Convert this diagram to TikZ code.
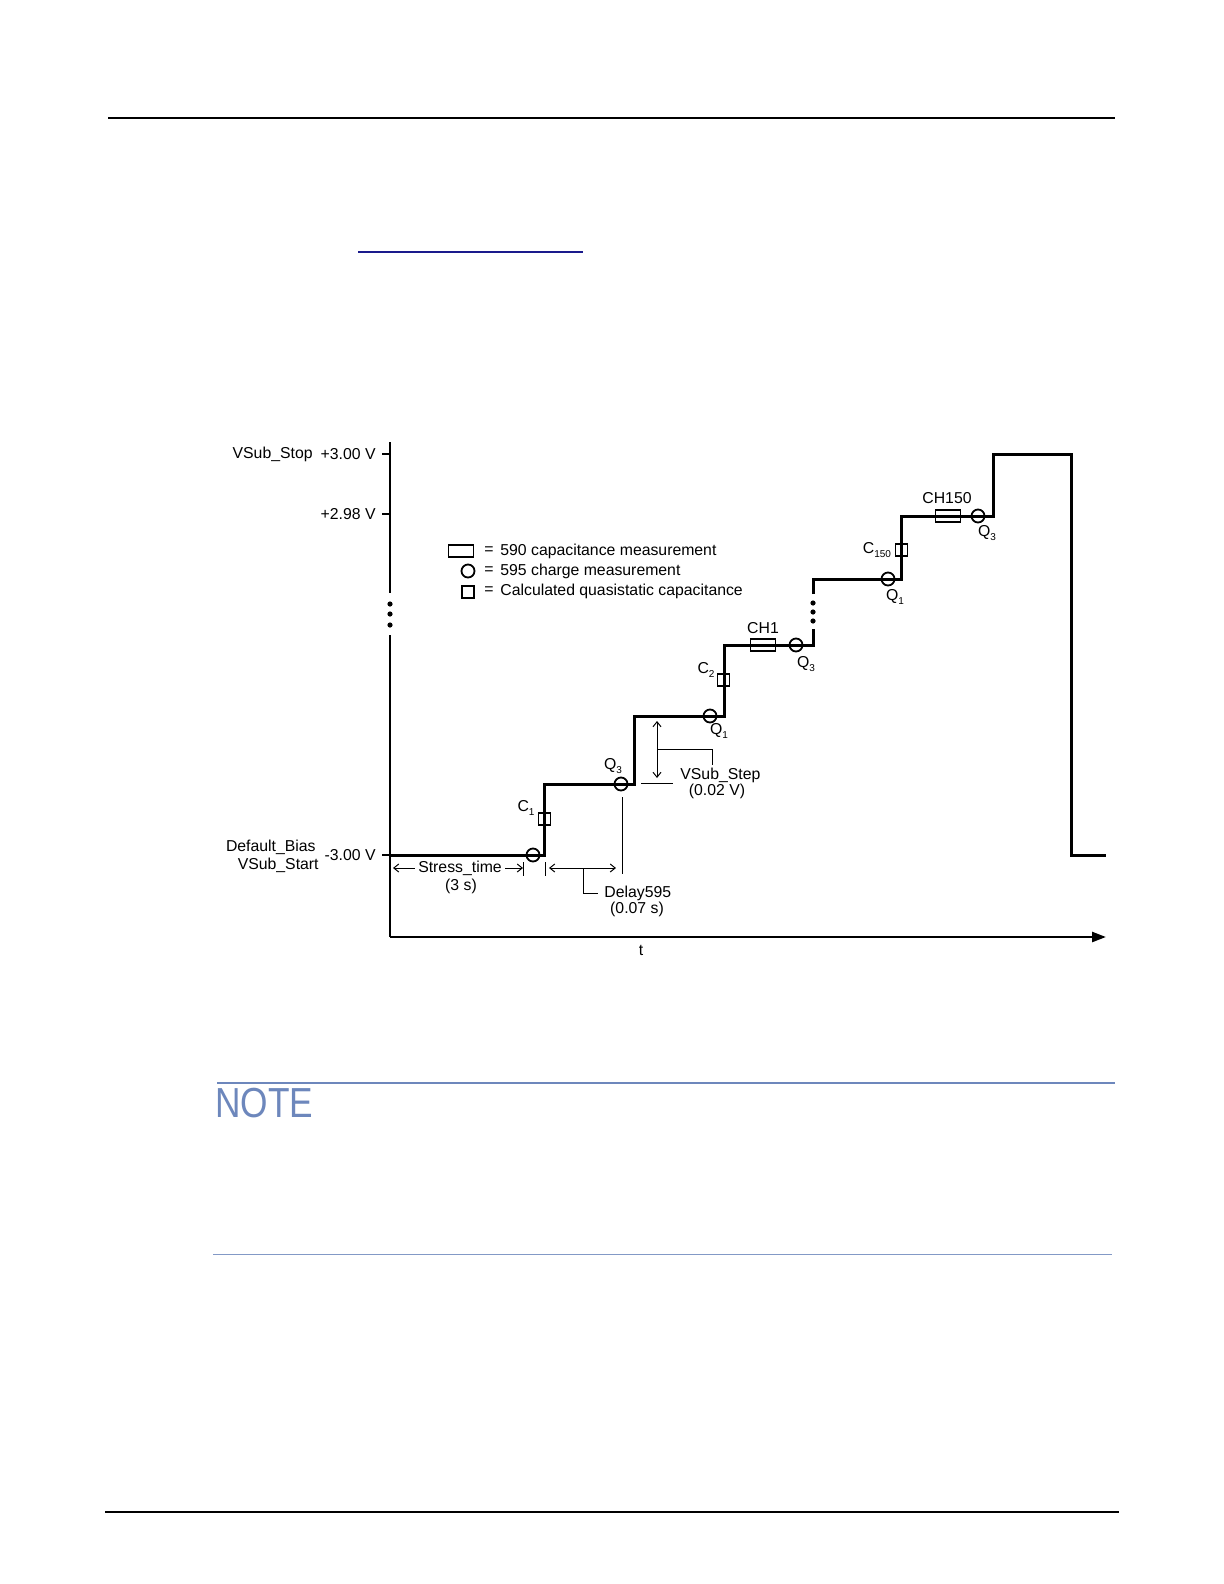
\documentclass[tikz,border=0pt]{standalone}
\usepackage{fontspec}
\setmainfont{Liberation Sans}
\usetikzlibrary{arrows.meta}
\definecolor{notecol}{HTML}{6D87BC}
\definecolor{linkcol}{HTML}{1A1A8C}
\newcommand{\lowsub}[1]{\raisebox{-0.45ex}{\fontsize{5}{5}\selectfont #1}}
\begin{document}
\begin{tikzpicture}[x=0.5pt,y=-0.5pt,
  lbl/.style={inner sep=0pt,font=\fontsize{7.9}{9}\selectfont},
  steppath/.style={line width=1.5pt,line join=miter},
  axisline/.style={line width=1.2pt},
  circ/.style={circle,draw,line width=0.9pt,minimum size=6.5pt,inner sep=0pt},
  sqr/.style={rectangle,draw,line width=0.8pt,minimum size=6pt,inner sep=0pt},
  chbox/.style={rectangle,draw,line width=0.8pt,minimum width=12.5pt,minimum height=6pt,inner sep=0pt},
  thin line/.style={line width=0.5pt},
  dimarrow/.style={line width=0.5pt,{Straight Barb[length=2.5pt,width=4pt]}-{Straight Barb[length=2.5pt,width=4pt]}},
  dotmark/.style={circle,fill,minimum size=2.6pt,inner sep=0pt}]
\useasboundingbox (0,0) rectangle (1224,1584);
% page rules
\coordinate (tl) at (108,118); \coordinate (tr) at (1115,118);
\draw[line width=0.8pt] (tl) -- (tr);
\coordinate (ll) at (358,252); \coordinate (lr) at (583,252);
\draw[linkcol,line width=0.8pt] (ll) -- (lr);
\coordinate (nl) at (217,1083); \coordinate (nr) at (1115,1083);
\draw[notecol,line width=1pt] (nl) -- (nr);
\node[anchor=west,inner sep=0pt,text=notecol,font=\fontsize{21}{24}\selectfont] (note) at (215,1103) {\scalebox{0.84}[1]{NOTE}};
\coordinate (bl) at (213,1254); \coordinate (br) at (1112,1254);
\draw[notecol!85,line width=0.5pt] (bl) -- (br);
\coordinate (fl) at (105,1512); \coordinate (fr) at (1119,1512);
\draw[line width=0.9pt] (fl) -- (fr);

% axes
\coordinate (ytop) at (390,442); \coordinate (ybrk1) at (390,593);
\coordinate (ybrk2) at (390,635); \coordinate (origin) at (390,937);
\coordinate (xend) at (1106,937);
\draw[axisline] (ytop) -- (ybrk1);
\draw[axisline] (ybrk2) -- (origin);
\draw[axisline,-{Triangle[length=7pt,width=5pt]}] (origin) -- (xend);
\node[dotmark] (ad1) at (390,604) {};
\node[dotmark] (ad2) at (390,614) {};
\node[dotmark] (ad3) at (390,625) {};
% ticks
\coordinate (t1a) at (382,454); \coordinate (t1b) at (390,454);
\coordinate (t2a) at (382,514); \coordinate (t2b) at (390,514);
\coordinate (t3a) at (382,855); \coordinate (t3b) at (390,855);
\draw[axisline] (t1a) -- (t1b) (t2a) -- (t2b) (t3a) -- (t3b);
\node[lbl,anchor=east] (vstop) at (313,454) {VSub\_Stop};
\node[lbl,anchor=east] (v300) at (376,454) {+3.00 V};
\node[lbl,anchor=east] (v298) at (376,514) {+2.98 V};
\node[lbl,anchor=east] (vm300) at (376,855) {-3.00 V};
\node[lbl,anchor=east] (dbias) at (316,847) {Default\_Bias};
\node[lbl,anchor=east] (vstart) at (319,865) {VSub\_Start};
\node[lbl] (tlab) at (641,950) {t};

% legend
\node[chbox] (lg1) at (461,551) {};
\node[circ] (lg2) at (468,571) {};
\node[sqr] (lg3) at (468,592) {};
\node[lbl] (eq1) at (489,551) {=};
\node[lbl] (eq2) at (489,571) {=};
\node[lbl] (eq3) at (489,591) {=};
\node[lbl,anchor=west] (lt1) at (500,551) {590 capacitance measurement};
\node[lbl,anchor=west] (lt2) at (500,571) {595 charge measurement};
\node[lbl,anchor=west] (lt3) at (500,591) {Calculated quasistatic capacitance};

% step waveform
\coordinate (s0) at (390,855); \coordinate (s1) at (544,855);
\coordinate (s2) at (544,784); \coordinate (s3) at (634,784);
\coordinate (s4) at (634,716); \coordinate (s5) at (724,716);
\coordinate (s6) at (724,645); \coordinate (s7) at (813,645);
\coordinate (s8) at (813,629); \coordinate (s9) at (813,594);
\coordinate (s10) at (813,579); \coordinate (s11) at (901,579);
\coordinate (s12) at (901,516); \coordinate (s13) at (993,516);
\coordinate (s14) at (993,454); \coordinate (s15) at (1071,454);
\coordinate (s16) at (1071,855); \coordinate (s17) at (1106,855);
\draw[steppath] (s0) -- (s1) -- (s2) -- (s3) -- (s4) -- (s5) -- (s6) -- (s7) -- (s8);
\draw[steppath] (s9) -- (s10) -- (s11) -- (s12) -- (s13) -- (s14) -- (s15) -- (s16) -- (s17);
\node[dotmark] (sd1) at (813,603) {};
\node[dotmark] (sd2) at (813,612) {};
\node[dotmark] (sd3) at (813,621) {};

% markers
\node[circ] (q1s) at (533,855) {};
\node[sqr] (c1s) at (544.5,819) {};
\node[circ] (q3a) at (621,784) {};
\node[circ] (q1b) at (710,716) {};
\node[sqr] (c2s) at (723.5,680) {};
\node[chbox] (ch1) at (763,645) {};
\node[circ] (q3b) at (796,645) {};
\node[circ] (q1c) at (888,579) {};
\node[sqr] (c150s) at (901.5,550) {};
\node[chbox] (ch150) at (948,516) {};
\node[circ] (q3c) at (978,516) {};

% marker labels
\node[lbl] (lc1) at (526,808) {C\lowsub{1}};
\node[lbl] (lq3a) at (613,766) {Q\lowsub{3}};
\node[lbl] (lq1b) at (719,731) {Q\lowsub{1}};
\node[lbl] (lc2) at (706,670) {C\lowsub{2}};
\node[lbl] (lch1) at (763,628) {CH1};
\node[lbl] (lq3b) at (806,664) {Q\lowsub{3}};
\node[lbl] (lq1c) at (895,597) {Q\lowsub{1}};
\node[lbl] (lc150) at (877,550) {C\lowsub{150}};
\node[lbl] (lch150) at (947,498) {CH150};
\node[lbl] (lq3c) at (987,533) {Q\lowsub{3}};

% Stress time
\node[lbl] (stress) at (460,868) {Stress\_time};
\node[lbl] (stress2) at (461,886) {(3 s)};
\coordinate (sa1) at (393,868); \coordinate (sa2) at (523,868);
\draw[thin line,-{Straight Barb[length=2.5pt,width=4pt]}] (stress.west) ++(-3,0) -- (sa1);
\draw[thin line,-{Straight Barb[length=2.5pt,width=4pt]}] (stress.east) ++(3,0) -- (sa2);
\coordinate (tk1a) at (523,862); \coordinate (tk1b) at (523,876);
\coordinate (tk2a) at (545,862); \coordinate (tk2b) at (545,876);
\draw[thin line] (tk1a) -- (tk1b) (tk2a) -- (tk2b);

% Delay595
\coordinate (da1) at (549,868); \coordinate (da2) at (616,868);
\draw[dimarrow] (da1) -- (da2);
\coordinate (dv1) at (622,797); \coordinate (dv2) at (622,874);
\draw[thin line] (dv1) -- (dv2);
\coordinate (db1) at (583,868); \coordinate (db2) at (583,893); \coordinate (db3) at (598,893);
\draw[thin line] (db1) -- (db2) -- (db3);
\node[lbl,anchor=west] (delay) at (604,893) {Delay595};
\node[lbl] (delay2) at (637,909) {(0.07 s)};

% VSub_Step
\coordinate (va1) at (657,721); \coordinate (va2) at (657,778);
\draw[dimarrow] (va1) -- (va2);
\coordinate (vh1) at (641,783); \coordinate (vh2) at (673,783);
\draw[thin line] (vh1) -- (vh2);
\coordinate (vb1) at (657,749); \coordinate (vb2) at (712,749); \coordinate (vb3) at (712,765);
\draw[thin line] (vb1) -- (vb2) -- (vb3);
\node[lbl,anchor=west] (vstep) at (680,775) {VSub\_Step};
\node[lbl] (vstep2) at (717,791) {(0.02 V)};
\end{tikzpicture}
\end{document}
